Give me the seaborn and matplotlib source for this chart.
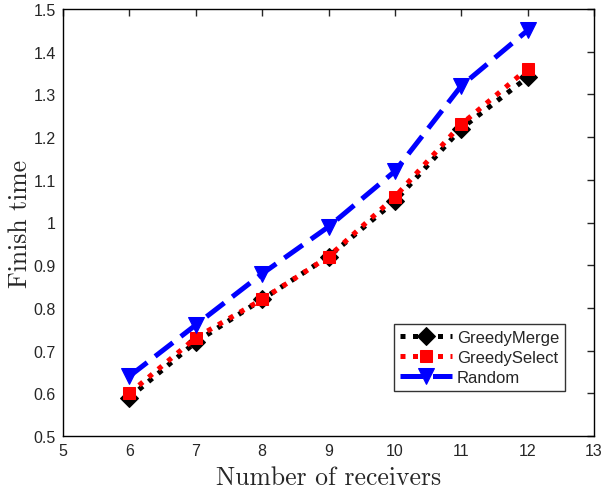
import matplotlib
matplotlib.use("Agg")
import matplotlib.pyplot as plt
import seaborn as sns
import pandas as pd
import numpy as np

receivers = [6, 7, 8, 9, 10, 11, 12]
greedy_merge = [0.59, 0.72, 0.82, 0.92, 1.05, 1.22, 1.34]
greedy_select = [0.60, 0.73, 0.82, 0.92, 1.06, 1.23, 1.36]
random_ = [0.64, 0.76, 0.88, 0.99, 1.12, 1.32, 1.45]
series_names = ["GreedyMerge", "GreedySelect", "Random"]

df = pd.DataFrame({
    "x": receivers * 3,
    "y": greedy_merge + greedy_select + random_,
    "method": sum([[n] * len(receivers) for n in series_names], []),
})

sns.set_style("white")
plt.rcParams['font.family'] = ['Liberation Sans', 'DejaVu Sans']

fig = plt.figure(figsize=(6.03, 4.89), dpi=100)
ax = fig.add_axes([63 / 603, 1 - 437 / 489, 531 / 603, 427 / 489])

styles = {
    "GreedyMerge": dict(color="black", marker="D", ls=(0, (1, 1.5)), ms=9),
    "GreedySelect": dict(color="red", marker="s", ls=(0, (1, 1.5)), ms=9),
    "Random": dict(color="blue", marker="v", ls=(0, (4.5, 2)), ms=11),
}
for name in series_names:
    st = styles[name]
    sub = df[df["method"] == name]
    sns.lineplot(data=sub, x="x", y="y", ax=ax, color=st["color"], marker=st["marker"],
                 markersize=st["ms"], linewidth=3.6, linestyle=st["ls"],
                 markeredgecolor=st["color"], label=name)

ax.set_xlim(5, 13)
ax.set_ylim(0.5, 1.5)
ax.set_xticks(range(5, 14))
ax.set_yticks(np.round(np.arange(0.5, 1.51, 0.1), 1))
ax.set_yticklabels(["0.5", "0.6", "0.7", "0.8", "0.9", "1", "1.1", "1.2", "1.3", "1.4", "1.5"])
ax.tick_params(direction="in", top=True, right=True, labelsize=11.5, length=5, width=1, pad=5)
for s in ax.spines.values():
    s.set_linewidth(1)
    s.set_color("black")

ax.set_xlabel("Number of receivers", fontfamily="cmr10", fontsize=18.5, labelpad=5)
ax.set_ylabel("Finish time", fontfamily="cmr10", fontsize=18.5, labelpad=1)

leg = ax.legend(loc="lower right", bbox_to_anchor=(0.945, 0.105), frameon=True, fancybox=False,
                edgecolor="black", fontsize=12, handlelength=3.1, borderpad=0.35, labelspacing=0.3,
                handletextpad=0.3, borderaxespad=0)
leg.get_frame().set_linewidth(1)

fig.savefig("out.png", dpi=100)
